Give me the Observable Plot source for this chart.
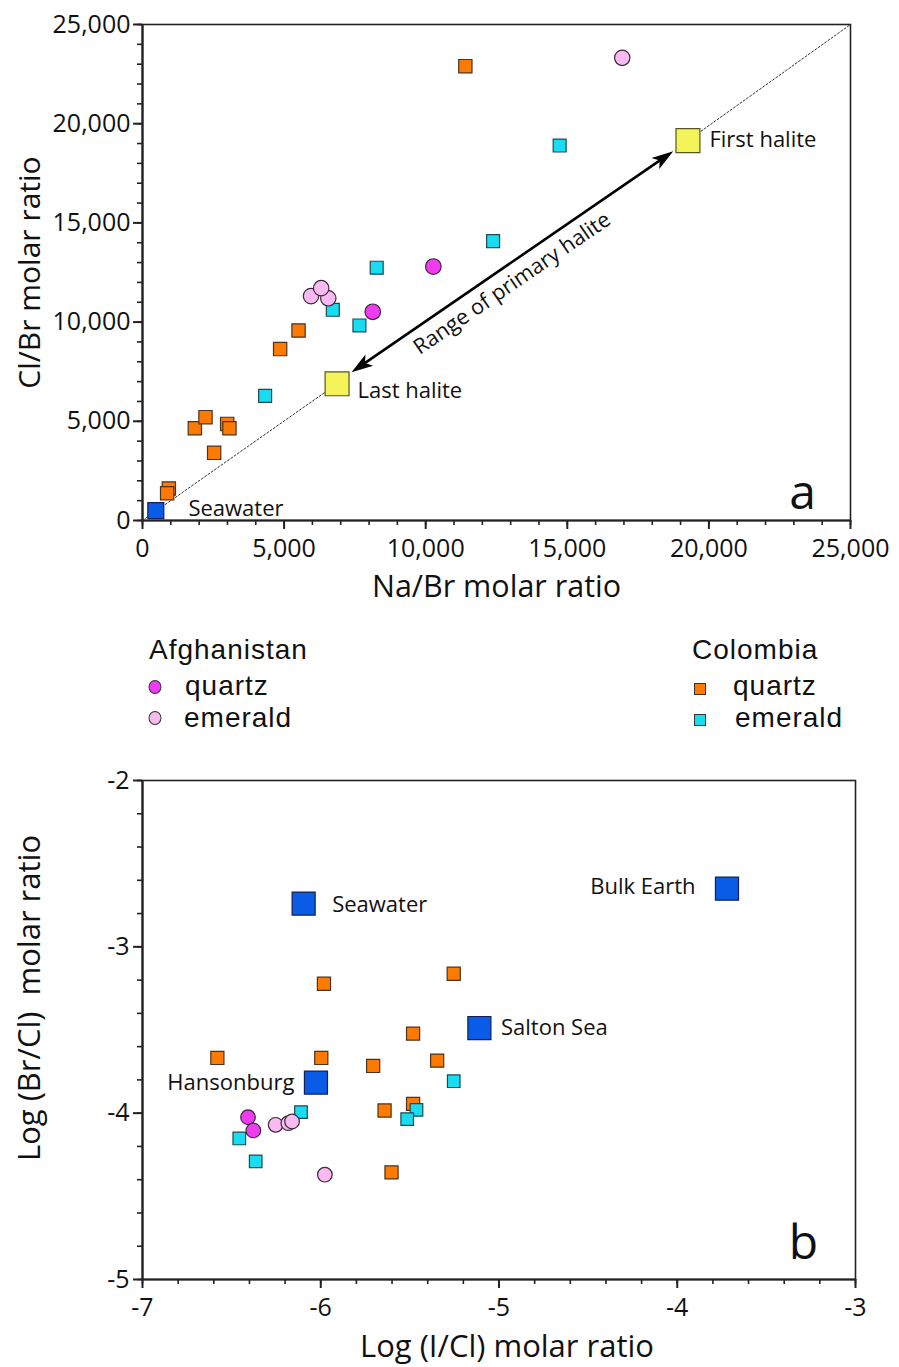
<!DOCTYPE html>
<html>
<head>
<meta charset="utf-8">
<script src="https://cdn.jsdelivr.net/npm/d3@7"></script>
<script src="https://cdn.jsdelivr.net/npm/@observablehq/plot@0.6"></script>
<style>
  html, body { margin: 0; padding: 0; background: #fff; }
  body { font-family: "Open Sans", sans-serif; color: #111; }
  #wrap { width: 899px; }
  #legend { position: relative; height: 140px; font-family: "Liberation Sans", Arial, sans-serif; }
  #legend .t { position: absolute; transform: translateY(-50%); white-space: nowrap; line-height: 1; letter-spacing: 1px; }
  #legend .m { position: absolute; transform: translate(-50%, -50%); box-sizing: border-box; border: 1px solid #333; }
</style>
</head>
<body>
<div id="wrap">
  <div id="pa"></div>
  <div id="legend"></div>
  <div id="pb"></div>
</div>
<script>
const FONT = '"Open Sans", sans-serif';

// ---------- Colours ----------
const colAfgQuartz = "#f03cf0";
const colAfgEmerald = "#f9b9f1";
const colColQuartz = "#ff7a00";
const colColEmerald = "#18dcf0";
const colReference = "#0a5ce6";
const colHalite = "#f4f45a";

// ---------- Panel a: Na/Br vs Cl/Br ----------
const aTicks = [0, 5000, 10000, 15000, 20000, 25000];
const afgQuartzNaBr = [8130, 10270];
const afgQuartzClBr = [10520, 12800];
const afgEmeraldNaBr = [5950, 6560, 6310, 16940];
const afgEmeraldClBr = [11310, 11200, 11710, 23320];
const colQuartzNaBr = [930, 870, 1848, 2224, 2990, 3070, 2530, 4860, 5510, 11400];
const colQuartzClBr = [1610, 1370, 4650, 5210, 4870, 4650, 3410, 8640, 9580, 22900];
const colEmeraldNaBr = [4330, 6720, 7660, 8270, 12380, 14730];
const colEmeraldClBr = [6280, 10620, 9830, 12740, 14080, 18900];
const seawaterNaBr = [470];
const seawaterClBr = [500];
const haliteNaBr = [6870, 19260];   // last halite, first halite
const haliteClBr = [6890, 19150];
const diagonalEnd = [25000, 25000];
const arrowTipNaBr = [7380, 18740];  // tip at last halite, tip at first halite
const arrowTipClBr = [7470, 18610];
const aLabelText = ["Seawater", "Last halite", "First halite"];
const aLabelNaBr = [1620, 7590, 20020];
const aLabelClBr = [605, 6550, 19200];
const rangeText = ["Range of primary halite"];
const rangeNaBr = [13050];
const rangeClBr = [11950];

// ---------- Panel b: Log(I/Cl) vs Log(Br/Cl) ----------
const bTicksX = [-7, -6, -5, -4, -3];
const bTicksY = [-5, -4, -3, -2];
const bColQuartzI = [-5.982, -5.254, -5.482, -6.580, -5.997, -5.706, -5.347, -5.642, -5.482, -5.603];
const bColQuartzBr = [-3.222, -3.162, -3.522, -3.668, -3.668, -3.716, -3.684, -3.984, -3.944, -4.356];
const bColEmeraldI = [-5.254, -5.463, -5.515, -6.111, -6.457, -6.365];
const bColEmeraldBr = [-3.808, -3.980, -4.036, -3.994, -4.152, -4.290];
const bAfgQuartzI = [-6.408, -6.378];
const bAfgQuartzBr = [-4.024, -4.104];
const bAfgEmeraldI = [-6.253, -6.182, -6.161, -5.977];
const bAfgEmeraldBr = [-4.070, -4.060, -4.050, -4.370];
const bRefNames = ["Seawater", "Bulk Earth", "Salton Sea", "Hansonburg"];
const bRefI = [-6.096, -3.721, -5.110, -6.027];
const bRefBr = [-2.740, -2.650, -3.488, -3.816];
const bLabelI = [-5.936, -3.897, -4.989, -6.148];
const bLabelBr = [-2.750, -2.642, -3.490, -3.818];
const bLabelAnchor = ["start", "end", "start", "end"];

// ---------- helpers ----------
const pts = (xs, ys, extra = {}) => xs.map((x, i) => ({x, y: ys[i], ...Object.fromEntries(Object.entries(extra).map(([k, v]) => [k, v[i]]))}));
const squareDot = (data, fill, r, stroke = "#4a3320") =>
  Plot.dot(data, {x: "x", y: "y", symbol: "square", r, fill, stroke, strokeWidth: 1.2});
const circleDot = (data, fill, r) =>
  Plot.dot(data, {x: "x", y: "y", symbol: "circle", r, fill, stroke: "#3a2a3a", strokeWidth: 1.2});

function arrowHeadSymbol(angleDeg) {
  const a = angleDeg * Math.PI / 180, c = Math.cos(a), s = Math.sin(a);
  const rot = ([px, py]) => [px * c - py * s, px * s + py * c];
  return {
    draw(ctx, size) {
      const r = Math.sqrt(size / Math.PI);
      const p = [[0, 0], [0.85 * r, 2.7 * r], [0, 2.05 * r], [-0.85 * r, 2.7 * r]].map(rot);
      ctx.moveTo(p[0][0], p[0][1]);
      for (let i = 1; i < p.length; i++) ctx.lineTo(p[i][0], p[i][1]);
      ctx.closePath();
    }
  };
}

const range = (a, b, n) => d3.range(n + 1).map(i => a + (b - a) * i / n);
const comma = d3.format(",");

// ---------- Panel a ----------
const W = 899;
const aH = 610, aML = 142, aMR = 49, aMT = 24, aMB = 90;
// on-screen angle of the arrow (degrees, counter-clockwise from horizontal)
const aAngle = Math.atan2(((arrowTipClBr[1] - arrowTipClBr[0]) / 25000) * (aH - aMT - aMB),
                          ((arrowTipNaBr[1] - arrowTipNaBr[0]) / 25000) * (W - aML - aMR)) * 180 / Math.PI;
const inset = 0.03;
const shaft = [{
  x1: arrowTipNaBr[0] + inset * (arrowTipNaBr[1] - arrowTipNaBr[0]),
  y1: arrowTipClBr[0] + inset * (arrowTipClBr[1] - arrowTipClBr[0]),
  x2: arrowTipNaBr[1] - inset * (arrowTipNaBr[1] - arrowTipNaBr[0]),
  y2: arrowTipClBr[1] - inset * (arrowTipClBr[1] - arrowTipClBr[0])
}];

const plotA = Plot.plot({
  width: W, height: aH,
  marginLeft: aML, marginRight: aMR, marginTop: aMT, marginBottom: aMB,
  style: {fontFamily: FONT, fontSize: "25px", color: "#111", background: "#fff"},
  x: {domain: [0, 25000]},
  y: {domain: [0, 25000]},
  marks: [
    Plot.frame({stroke: "#222", strokeWidth: 1.6}),
    Plot.axisX({ticks: range(0, 25000, 25), tickSize: 5, tickFormat: () => "", label: null, strokeWidth: 1.6, stroke: "#222"}),
    Plot.axisY({ticks: range(0, 25000, 25), tickSize: 5, tickFormat: () => "", label: null, strokeWidth: 1.6, stroke: "#222"}),
    Plot.axisX({ticks: aTicks, tickSize: 9, tickPadding: 10, tickFormat: comma, label: null, strokeWidth: 2, stroke: "#222", fontSize: 25}),
    Plot.axisY({ticks: aTicks, tickSize: 9, tickPadding: 3, tickFormat: comma, label: null, strokeWidth: 2, stroke: "#222", fontSize: 25}),
    Plot.ruleX([0], {stroke: "#222", strokeWidth: 2.2}),
    Plot.ruleY([0], {stroke: "#222", strokeWidth: 2.2}),
    Plot.text(["Na/Br molar ratio"], {frameAnchor: "bottom", textAnchor: "middle", lineAnchor: "middle", dy: 67, fontSize: 30.5}),
    Plot.text(["Cl/Br molar ratio"], {frameAnchor: "left", textAnchor: "middle", lineAnchor: "middle", rotate: -90, dx: -112, fontSize: 30}),
    // dashed diagonal (y = x) outside the halite range
    Plot.line([{x: 0, y: 0}, {x: haliteNaBr[0], y: haliteClBr[0]}], {x: "x", y: "y", stroke: "#333", strokeWidth: 1, strokeDasharray: "2,2"}),
    Plot.line([{x: haliteNaBr[1], y: haliteClBr[1]}, {x: diagonalEnd[0], y: diagonalEnd[1]}], {x: "x", y: "y", stroke: "#333", strokeWidth: 1, strokeDasharray: "2,2"}),
    // data
    squareDot(pts(colQuartzNaBr, colQuartzClBr), colColQuartz, 7.5),
    squareDot(pts(colEmeraldNaBr, colEmeraldClBr), colColEmerald, 7.3, "#1d4a52"),
    circleDot(pts(afgEmeraldNaBr, afgEmeraldClBr), colAfgEmerald, 7.7),
    circleDot(pts(afgQuartzNaBr, afgQuartzClBr), colAfgQuartz, 7.8),
    squareDot(pts(seawaterNaBr, seawaterClBr), colReference, 9, "#10205a"),
    squareDot(pts(haliteNaBr, haliteClBr), colHalite, 13.5, "#555520"),
    // double arrow
    Plot.link(shaft, {x1: "x1", y1: "y1", x2: "x2", y2: "y2", stroke: "#000", strokeWidth: 2.6}),
    Plot.dot([{x: arrowTipNaBr[1], y: arrowTipClBr[1]}], {x: "x", y: "y", r: 8, symbol: arrowHeadSymbol(90 - aAngle), fill: "#000", stroke: "none"}),
    Plot.dot([{x: arrowTipNaBr[0], y: arrowTipClBr[0]}], {x: "x", y: "y", r: 8, symbol: arrowHeadSymbol(270 - aAngle), fill: "#000", stroke: "none"}),
    Plot.text(pts(rangeNaBr, rangeClBr, {t: rangeText}), {x: "x", y: "y", text: "t", rotate: -aAngle, fontSize: 21.5}),
    Plot.text(pts(aLabelNaBr, aLabelClBr, {t: aLabelText}), {x: "x", y: "y", text: "t", textAnchor: "start", fontSize: 22}),
    Plot.text(["a"], {frameAnchor: "bottom-right", textAnchor: "middle", lineAnchor: "middle", dx: -48, dy: -27, fontSize: 48})
  ]
});
document.getElementById("pa").appendChild(plotA);

// ---------- Legend ----------
const legendGroups = ["Afghanistan", "Colombia"];
const legendItems = ["quartz", "emerald"];
(function buildLegend() {
  const L = document.getElementById("legend");
  const add = (cls, css, text) => {
    const el = document.createElement("div");
    el.className = cls;
    Object.assign(el.style, css);
    if (text) el.textContent = text;
    L.appendChild(el);
  };
  const fs = "28px";
  add("t", {left: "149px", top: "40px", fontSize: fs}, legendGroups[0]);
  add("m", {left: "155px", top: "77px", width: "13px", height: "14px", borderRadius: "50%", background: colAfgQuartz}, "");
  add("t", {left: "185px", top: "76px", fontSize: fs}, legendItems[0]);
  add("m", {left: "155px", top: "108px", width: "13px", height: "14px", borderRadius: "50%", background: colAfgEmerald}, "");
  add("t", {left: "184px", top: "108px", fontSize: fs}, legendItems[1]);
  add("t", {left: "692px", top: "40px", fontSize: fs}, legendGroups[1]);
  add("m", {left: "700px", top: "79px", width: "12px", height: "12px", background: colColQuartz}, "");
  add("t", {left: "733px", top: "76px", fontSize: fs}, legendItems[0]);
  add("m", {left: "700px", top: "110px", width: "12px", height: "12px", background: colColEmerald}, "");
  add("t", {left: "735px", top: "108px", fontSize: fs}, legendItems[1]);
})();

// ---------- Panel b ----------
const bH = 617;
const plotB = Plot.plot({
  width: W, height: bH,
  marginLeft: 142, marginRight: 44, marginTop: 30, marginBottom: 88,
  style: {fontFamily: FONT, fontSize: "25px", color: "#111", background: "#fff"},
  x: {domain: [-7, -3]},
  y: {domain: [-5, -2]},
  marks: [
    Plot.frame({stroke: "#222", strokeWidth: 1.6}),
    Plot.axisX({ticks: range(-7, -3, 20), tickSize: 5, tickFormat: () => "", label: null, strokeWidth: 1.6, stroke: "#222"}),
    Plot.axisY({ticks: range(-5, -2, 15), tickSize: 5, tickFormat: () => "", label: null, strokeWidth: 1.6, stroke: "#222"}),
    Plot.axisX({ticks: bTicksX, tickSize: 9, tickPadding: 10, tickFormat: d => String(d), label: null, strokeWidth: 2, stroke: "#222", fontSize: 25}),
    Plot.axisY({ticks: bTicksY, tickSize: 9, tickPadding: 4, tickFormat: d => String(d), label: null, strokeWidth: 2, stroke: "#222", fontSize: 25}),
    Plot.ruleX([-7], {stroke: "#222", strokeWidth: 2.2}),
    Plot.ruleY([-5], {stroke: "#222", strokeWidth: 2.2}),
    Plot.text(["Log (I/Cl) molar ratio"], {frameAnchor: "bottom", textAnchor: "middle", lineAnchor: "middle", dy: 68, dx: 8, fontSize: 31}),
    Plot.text(["Log (Br/Cl)\u00a0 molar ratio"], {frameAnchor: "left", textAnchor: "middle", lineAnchor: "middle", rotate: -90, dx: -112, dy: -32, fontSize: 31}),
    squareDot(pts(bColQuartzI, bColQuartzBr), colColQuartz, 7.4),
    squareDot(pts(bColEmeraldI, bColEmeraldBr), colColEmerald, 7.1, "#1d4a52"),
    circleDot(pts(bAfgQuartzI, bAfgQuartzBr), colAfgQuartz, 7.3),
    circleDot(pts(bAfgEmeraldI, bAfgEmeraldBr), colAfgEmerald, 7.3),
    squareDot(pts(bRefI, bRefBr), colReference, 13, "#10205a"),
    Plot.text(pts(bLabelI, bLabelBr, {t: bRefNames, a: bLabelAnchor}).filter(d => d.a === "start"), {x: "x", y: "y", text: "t", textAnchor: "start", fontSize: 22}),
    Plot.text(pts(bLabelI, bLabelBr, {t: bRefNames, a: bLabelAnchor}).filter(d => d.a === "end"), {x: "x", y: "y", text: "t", textAnchor: "end", fontSize: 22}),
    Plot.text(["b"], {frameAnchor: "bottom-right", textAnchor: "middle", lineAnchor: "middle", dx: -52, dy: -36, fontSize: 48})
  ]
});
document.getElementById("pb").appendChild(plotB);
</script>
</body>
</html>
